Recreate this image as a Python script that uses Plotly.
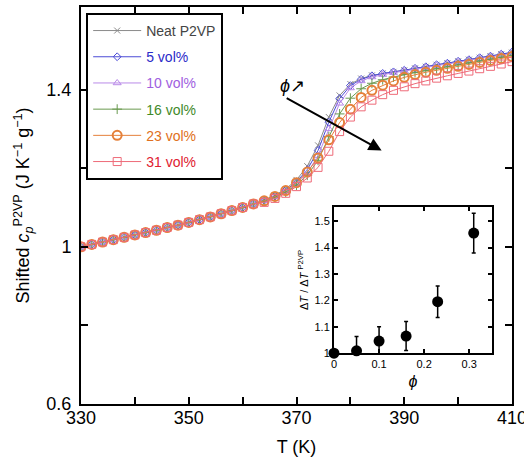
import plotly.graph_objects as go

# ---------------- data ----------------
T_K = [330, 332, 334, 336, 338, 340, 342, 344, 346, 348, 350, 352, 354, 356, 358, 360, 362,
       364, 366, 368, 370, 372, 374, 376, 378, 380, 382, 384, 386, 388, 390, 392, 394, 396,
       398, 400, 402, 404, 406, 408, 410]

base = [1.000, 1.006, 1.012, 1.018, 1.024, 1.030, 1.036, 1.042, 1.049, 1.055, 1.062, 1.069,
        1.076, 1.084, 1.092, 1.100, 1.109]

cp_neat = base + [1.119, 1.131, 1.147, 1.170, 1.205, 1.258, 1.330, 1.385, 1.414, 1.428, 1.436,
                  1.441, 1.445, 1.449, 1.454, 1.458, 1.463, 1.467, 1.472, 1.476, 1.481, 1.485,
                  1.490, 1.494]
cp_5 = base + [1.118, 1.129, 1.144, 1.165, 1.196, 1.245, 1.317, 1.377, 1.410, 1.426, 1.435,
               1.441, 1.445, 1.449, 1.454, 1.458, 1.463, 1.467, 1.472, 1.476, 1.481, 1.485,
               1.490, 1.495]
cp_10 = base + [1.117, 1.127, 1.141, 1.160, 1.188, 1.232, 1.300, 1.365, 1.404, 1.422, 1.432,
                1.438, 1.443, 1.447, 1.452, 1.456, 1.461, 1.465, 1.470, 1.474, 1.479, 1.483,
                1.488, 1.492]
cp_16 = base + [1.116, 1.126, 1.139, 1.157, 1.182, 1.220, 1.280, 1.338, 1.378, 1.402, 1.416,
                1.425, 1.432, 1.438, 1.443, 1.448, 1.453, 1.458, 1.463, 1.468, 1.473, 1.477,
                1.482, 1.487]
cp_23 = base + [1.117, 1.128, 1.143, 1.163, 1.190, 1.226, 1.272, 1.316, 1.350, 1.380, 1.398,
                1.411, 1.422, 1.431, 1.438, 1.444, 1.449, 1.454, 1.459, 1.464, 1.469, 1.474,
                1.479, 1.484]
cp_31 = base + [1.113, 1.123, 1.136, 1.153, 1.175, 1.202, 1.243, 1.293, 1.330, 1.356, 1.373,
                1.387, 1.398, 1.407, 1.415, 1.422, 1.429, 1.435, 1.441, 1.447, 1.453, 1.459,
                1.465, 1.471]

series_names = ["Neat P2VP", "5 vol%", "10 vol%", "16 vol%", "23 vol%", "31 vol%"]

phi = [0.0, 0.05, 0.10, 0.16, 0.23, 0.31]
dT_ratio = [1.000, 1.009, 1.046, 1.065, 1.195, 1.455]
dT_err = [0.0, 0.054, 0.054, 0.055, 0.060, 0.075]

x_ticks = [330, 340, 350, 360, 370, 380, 390, 400, 410]
x_ticktext = ["330", "", "350", "", "370", "", "390", "", "410"]
y_ticks = [0.6, 0.8, 1.0, 1.2, 1.4]
y_ticktext = ["0.6", "", "1", "", "1.4"]
inset_x_ticks = [0, 0.1, 0.2, 0.3]
inset_y_ticks = [1.0, 1.1, 1.2, 1.3, 1.4, 1.5]
inset_y_ticktext = ["1", "1.1", "1.2", "1.3", "1.4", "1.5"]

# ---------------- styles ----------------
FONT = "Liberation Sans, Arial, sans-serif"
styles = [
    dict(color="#8a8a8a", text="#444444", symbol="x-thin-open", size=6, mw=1),
    dict(color="#4b4bd6", text="#2a2ac8", symbol="diamond-open", size=6, mw=1),
    dict(color="#b98ae8", text="#a060e0", symbol="triangle-up-open", size=7, mw=1),
    dict(color="#6a9a50", text="#3f8a2a", symbol="cross-thin-open", size=7, mw=1),
    dict(color="#e5803a", text="#e07020", symbol="circle-open", size=9, mw=2),
    dict(color="#ee6a78", text="#e02030", symbol="square-open", size=8, mw=1),
]
series = [cp_neat, cp_5, cp_10, cp_16, cp_23, cp_31]

fig = go.Figure()
for name, ys, st in zip(series_names, series, styles):
    fig.add_trace(go.Scatter(
        x=T_K, y=ys, mode="lines+markers",
        name=f"<span style='color:{st['text']}'>{name}</span>",
        legendgroup=name,
        line=dict(color=st["color"], width=1),
        marker=dict(symbol=st["symbol"], size=st["size"], color=st["color"],
                    line=dict(color=st["color"], width=st["mw"])),
    ))

fig.add_trace(go.Scatter(
    x=phi, y=dT_ratio, mode="markers", xaxis="x2", yaxis="y2", showlegend=False,
    cliponaxis=False,
    marker=dict(color="black", size=11),
    error_y=dict(type="data", array=dT_err, color="black", thickness=1.5, width=2),
))

axis_common = dict(showgrid=False, zeroline=False, showline=True, linecolor="black",
                   linewidth=2, mirror="ticks", ticks="inside", tickcolor="black",
                   tickwidth=1.5, automargin=False)

fig.update_layout(
    width=524, height=463,
    margin=dict(l=81, r=12, t=7, b=59, autoexpand=False),
    paper_bgcolor="white", plot_bgcolor="white",
    font=dict(family=FONT, size=18, color="black"),
    showlegend=True,
    legend=dict(x=0.012, y=0.985, xanchor="left", yanchor="top",
                bgcolor="white", bordercolor="black", borderwidth=2,
                font=dict(family=FONT, size=14), tracegroupgap=5,
                traceorder="grouped", itemwidth=48),
    xaxis=dict(range=[330, 410], tickvals=x_ticks, ticktext=x_ticktext, ticklen=7,
               ticklabeloverflow="allow", ticklabelstandoff=-4,
               title=dict(text="T (K)", standoff=14, font=dict(size=18)), **axis_common),
    yaxis=dict(range=[0.6, 1.61], tickvals=y_ticks, ticktext=y_ticktext, ticklen=7,
               ticklabelstandoff=4,
               title=dict(text="Shifted <i>c</i><sub><i>p</i></sub><sup>P2VP</sup> (J K<sup>−1</sup> g<sup>−1</sup>)",
                          standoff=12, font=dict(size=18)), **axis_common),
    xaxis2=dict(domain=[0.587, 0.953], anchor="y2", range=[0, 0.35], tickvals=inset_x_ticks,
                ticklen=4, tickfont=dict(size=11),
                title=dict(text="<i>ϕ</i>", standoff=6, font=dict(size=16)), **axis_common),
    yaxis2=dict(domain=[0.128, 0.497], anchor="x2", range=[1.0, 1.555], tickvals=inset_y_ticks,
                ticktext=inset_y_ticktext, ticklen=4, tickfont=dict(size=11),
                title=dict(text="Δ<i>T</i> / Δ<i>T</i> <sup>P2VP</sup>", standoff=4,
                           font=dict(size=11)), **axis_common),
)

fig.add_annotation(x=385.8, y=1.245, ax=367.9, ay=1.38, xref="x", yref="y",
                   axref="x", ayref="y", showarrow=True, arrowhead=2, arrowsize=1.3,
                   arrowwidth=2, arrowcolor="black", text="")
fig.add_annotation(x=369.2, y=1.41, xref="x", yref="y", showarrow=False,
                   text="<i>ϕ</i>↗", font=dict(size=18, color="black"))

fig.write_html("out.html")
